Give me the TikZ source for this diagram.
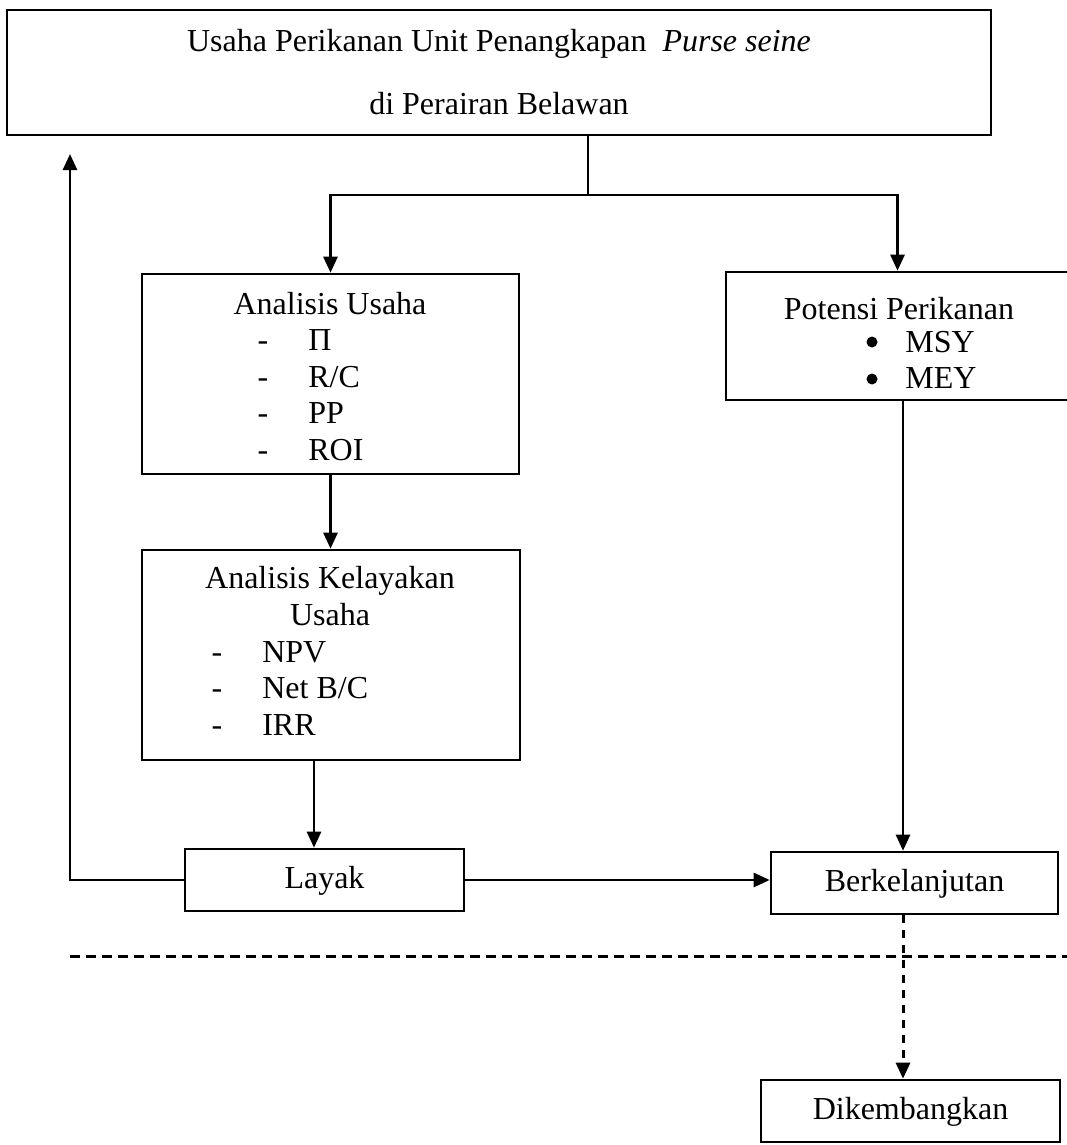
\documentclass[tikz,border=0pt]{standalone}
\usepackage{fontspec}
\setmainfont{Liberation Serif}
\usetikzlibrary{arrows.meta}
\begin{document}
\begin{tikzpicture}[x=1pt,y=-1pt,line width=2.6pt,
  box/.style={draw,rectangle,inner sep=0pt,line width=2.6pt},
  txt/.style={inner sep=0pt,anchor=base,font=\fontsize{32}{38}\selectfont},
  item/.style={txt,anchor=base west},
  bul/.style={circle,fill,inner sep=0pt,minimum size=11pt},
  boxtxt/.style={box,font=\fontsize{32}{38}\selectfont,text height=22pt,text depth=6pt},
  arr/.style={-{Triangle[length=16pt,width=14pt]}},
  dashline/.style={line width=3pt,dash pattern=on 10pt off 6pt}]
\useasboundingbox (0,0) rectangle (1067,1145);

% boxes
\node[box,font=\fontsize{32}{38}\selectfont,align=center,minimum width=984pt,minimum height=125pt] (top) at (499,72.5)
  {Usaha Perikanan Unit Penangkapan\ \ \textit{Purse seine}\\[25pt]di Perairan Belawan};
\node[box,minimum width=377pt,minimum height=200pt] (au) at (330.5,374) {};
\node[box,minimum width=378pt,minimum height=210pt] (ak) at (331,655) {};
\node[box,minimum width=343pt,minimum height=128pt] (pp) at (897.5,336) {};
\node[boxtxt,minimum width=279pt,minimum height=62pt] (layak) at (324.5,880) {Layak};
\node[boxtxt,minimum width=287pt,minimum height=62pt] (berk) at (914.5,883) {Berkelanjutan};
\node[boxtxt,minimum width=299pt,minimum height=62pt] (dik) at (910.5,1111) {Dikembangkan};

% Analisis Usaha contents
\node[txt] (aut) at (330,314) {Analisis Usaha};
\node[txt] (aud1) at (263,350) {-};
\node[txt] (aud2) at (263,387) {-};
\node[txt] (aud3) at (263,423) {-};
\node[txt] (aud4) at (263,460) {-};
\node[item] (aui1) at (307,350) {Π};
\node[item] (aui2) at (307,387) {R/C};
\node[item] (aui3) at (307,423) {PP};
\node[item] (aui4) at (307,460) {ROI};

% Analisis Kelayakan contents
\node[txt] (akt1) at (330,588) {Analisis Kelayakan};
\node[txt] (akt2) at (330,625) {Usaha};
\node[txt] (akd1) at (217,662) {-};
\node[txt] (akd2) at (217,698) {-};
\node[txt] (akd3) at (217,735) {-};
\node[item] (aki1) at (261,662) {NPV};
\node[item] (aki2) at (261,698) {Net B/C};
\node[item] (aki3) at (261,735) {IRR};

% Potensi Perikanan contents
\node[txt] (ppt) at (899,319) {Potensi Perikanan};
\node[bul] (ppb1) at (872,342) {};
\node[bul] (ppb2) at (872,379) {};
\node[item] (ppi1) at (904,352) {MSY};
\node[item] (ppi2) at (904,388) {MEY};

% connectors
\coordinate (j) at (588,195);
\draw (top.south -| j) -- (j);
\draw[arr] (j) -| (au.north);
\draw[arr] (j) -| (pp.north);
\draw[arr] (au.south) -- (ak.north -| au.south);
\coordinate (ca) at (314,0);
\draw[arr] (ak.south -| ca) -- (layak.north -| ca);
\coordinate (fb) at (70,154);
\draw[arr] (layak.west) -| (fb);
\draw[arr] (layak.east) -- (layak.east -| berk.west);
\coordinate (cb) at (903,0);
\draw[arr] (pp.south -| cb) -- (berk.north -| cb);
\draw[arr,line width=3pt,dash pattern=on 8pt off 7pt] (berk.south -| cb) -- (dik.north -| cb);
\coordinate (dl) at (70,956);
\coordinate (dr) at (1067,956);
\draw[dashline] (dl) -- (dr);
\end{tikzpicture}
\end{document}
